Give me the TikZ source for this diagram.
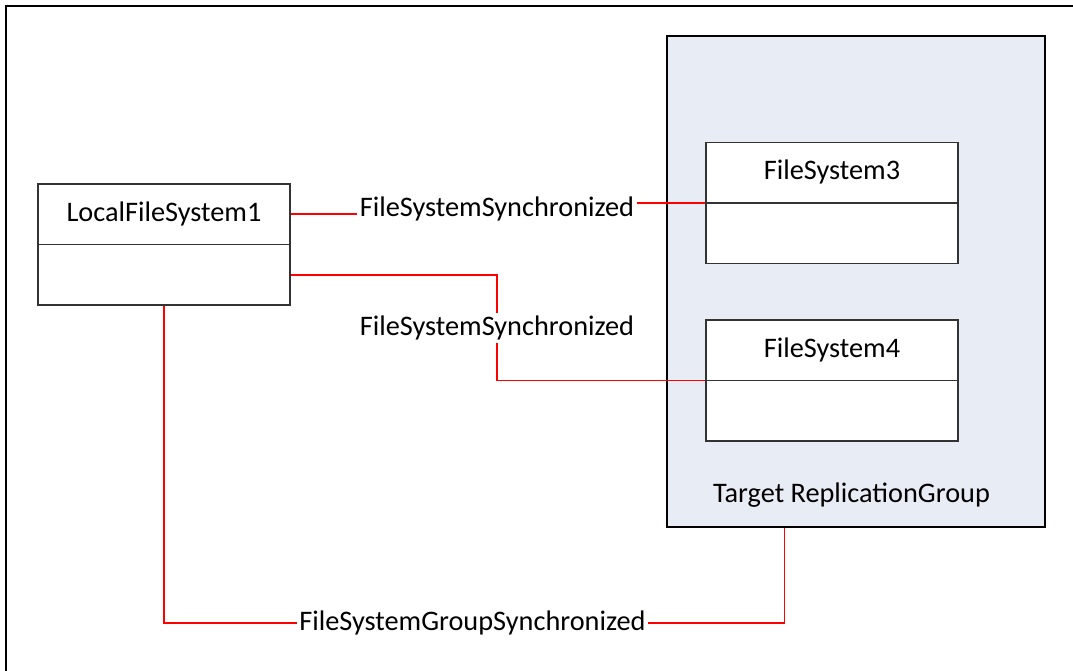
\documentclass[tikz,border=0pt]{standalone}
\usepackage{fontspec}
\setmainfont{Carlito}
\usetikzlibrary{calc}
\usetikzlibrary{positioning}
\definecolor{grpfill}{RGB}{232,236,244}
\definecolor{linkred}{RGB}{255,0,0}

\begin{document}
\begin{tikzpicture}[x=1pt,y=-1pt,classbox/.style={rectangle, draw=black!80, line width=1.2pt, fill=white, minimum width=252pt, minimum height=121pt, inner sep=0pt}]
    \tikzset{lbl/.style={inner sep=2.5pt, font=\fontsize{28.3}{33}\selectfont}}
    \tikzset{link/.style={draw=linkred, line width=1.2pt}}
    \useasboundingbox (0,0) rectangle (1073,671);
    % frame, only top and left are visible
    \draw[line width=2.2pt] (6,671) -- (6,6) -- (1073,6);
    
    % replication group
    \node[rectangle, draw=black, line width=2.4pt, fill=grpfill, minimum width=378pt, minimum height=491pt] (group) at (856,281.5) {};
    \node[lbl] (group-name) at (851.5,495) {Target ReplicationGroup};
    
    % classes
    \node[classbox] (lfs) at (164,244.5) {};
    \node[classbox] (fs3) at (832,203) {};
    \node[classbox] (fs4) at (832,380.5) {};
    \draw[draw=black!80, line width=1.2pt] (lfs.west) -- (lfs.east);
    \draw[draw=black!80, line width=1.2pt] (fs3.west) -- (fs3.east);
    \draw[draw=black!80, line width=1.2pt] (fs4.west) -- (fs4.east);
    \node[lbl] (lfs-name) at ($(lfs.north)!0.5!(lfs.center)$) {LocalFileSystem1};
    \node[lbl] (fs3-name) at ($(fs3.north)!0.5!(fs3.center)$) {FileSystem3};
    \node[lbl] (fs4-name) at ($(fs4.north)!0.5!(fs4.center)$) {FileSystem4};
    
    % associations
    \node[lbl] (sync3) at (497,209) {FileSystemSynchronized};
    \node[lbl] (sync4) at (497,328) {FileSystemSynchronized};
    \node[lbl] (gsync) at (472.5,623) {FileSystemGroupSynchronized};
    
    \draw[link] (lfs.east |- lfs-name) -- (sync3.west |- lfs-name);
    \draw[link] (sync3.east |- fs3.west) -- (fs3.west);
    
    \draw[link] ($(lfs.east)!0.5!(lfs.south east)$) -| (sync4.north);
    \draw[link] (sync4.south) |- (fs4.west);
    
    \draw[link] (lfs.south) |- (gsync.west);
    \draw[link] (gsync.east) -| ($(group.south west)!0.312!(group.south east)$);
    
\end{tikzpicture}
\end{document}
